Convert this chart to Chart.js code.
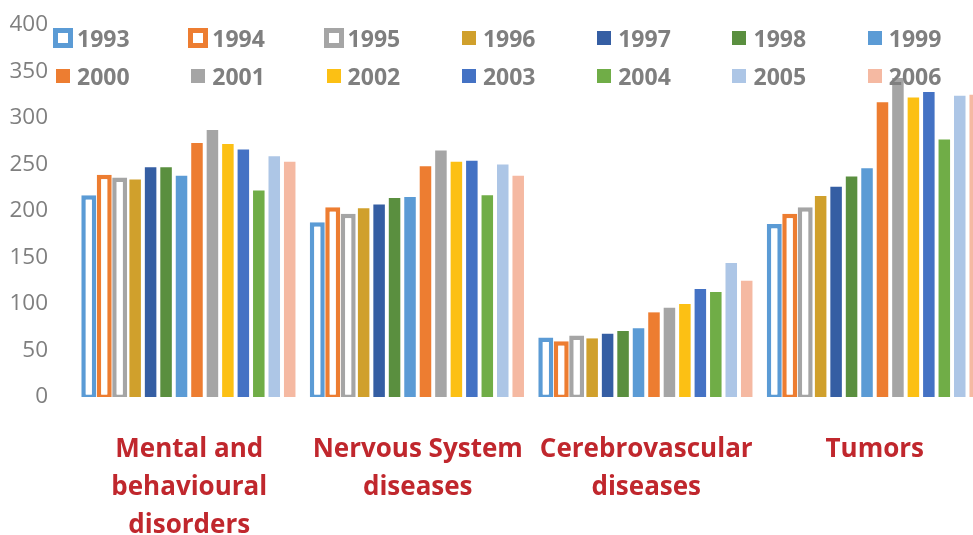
<!DOCTYPE html>
<html>
<head>
<meta charset="utf-8">
<title>Diseases by year</title>
<script src="https://cdn.jsdelivr.net/npm/chart.js@4.4.1/dist/chart.umd.min.js"></script>
<style>
  html, body { margin: 0; padding: 0; background: #fff; overflow: hidden; }
  #wrap { position: relative; width: 973px; height: 535px; overflow: hidden; }
  #chart { position: absolute; left: 0; top: 0; }
  #legend {
    position: absolute; left: 53px; top: 19px; z-index: 2;
    display: grid; grid-template-columns: repeat(7, 135.3px); grid-auto-rows: 38px;
  }
  .item { display: flex; align-items: center; font: bold 23px "Open Sans", sans-serif; color: #7f7f7f; line-height: 38px; }
  .box { width: 14px; height: 14px; margin: 0 7px 0 3px; box-sizing: border-box; }
  .box.hollow { width: 20px; height: 20px; margin: 0 4px 0 0; border: 5.5px solid; background: #fff; }
</style>
</head>
<body>
<div id="wrap">
  <canvas id="chart" width="1000" height="535"></canvas>
  <div id="legend"></div>
</div>
<script>
/* data */
const years = ["1993", "1994", "1995", "1996", "1997", "1998", "1999",
               "2000", "2001", "2002", "2003", "2004", "2005", "2006"];

const categories = [
  ["Mental and", "behavioural", "disorders"],
  ["Nervous System", "diseases"],
  ["Cerebrovascular", "diseases"],
  ["Tumors"]
];

// one value per year, in the order of years
const mentalValues   = [217, 239, 236, 234, 247, 247, 238, 273, 287, 272, 266, 222, 259, 253];
const nervousValues  = [188, 204, 197, 203, 207, 214, 215, 248, 265, 253, 254, 217, 250, 238];
const cerebroValues  = [ 64,  60,  66,  63,  68,  71,  74,  91,  96, 100, 116, 113, 144, 125];
const tumorValues    = [186, 197, 204, 216, 226, 237, 246, 317, 343, 322, 328, 277, 324, 325];

const yMin = 0;
const yMax = 400;
const yStep = 50;

/* styles */
const colors = ["#5b9bd5", "#ed7d31", "#a5a5a5", "#d0a02c", "#355ea3", "#5a8f3f", "#5b9bd5",
                "#ed7d31", "#a5a5a5", "#fcc014", "#4472c4", "#70ad47", "#adc6e6", "#f5b9a2"];
const hollowCount = 3; // first three years are drawn as outlines

Chart.defaults.font.family = "'Open Sans', sans-serif";

function buildDatasets() {
  return years.map((year, i) => {
    const hollow = i < hollowCount;
    return {
      label: year,
      data: [mentalValues[i], nervousValues[i], cerebroValues[i], tumorValues[i]],
      backgroundColor: hollow ? "#ffffff" : colors[i],
      borderColor: colors[i],
      borderWidth: hollow ? { top: 4.5, left: 4.5, right: 4.5, bottom: 2.5 } : 0,
      borderSkipped: false,
      barPercentage: hollow ? 0.97 : 0.745,
      categoryPercentage: 0.947
    };
  });
}

//legend as html on top of the plot
function buildLegend() {
  const legend = document.getElementById("legend");
  years.forEach((year, i) => {
    const item = document.createElement("div");
    item.className = "item";
    const box = document.createElement("span");
    if (i < hollowCount) {
      box.className = "box hollow";
      box.style.borderColor = colors[i];
    } else {
      box.className = "box";
      box.style.background = colors[i];
    }
    item.appendChild(box);
    item.appendChild(document.createTextNode(year));
    legend.appendChild(item);
  });
}

function drawChart() {
  const ctx = document.getElementById("chart").getContext("2d");
  new Chart(ctx, {
    type: "bar",
    data: { labels: categories, datasets: buildDatasets() },
    options: {
      responsive: false,
      animation: false,
      layout: { padding: { top: 25, right: 11, left: 0, bottom: 0 } },
      plugins: { legend: { display: false }, tooltip: { enabled: false } },
      scales: {
        x: {
          grid: { display: false, drawTicks: false },
          border: { display: false },
          ticks: {
            color: "#c0272d",
            font: { size: 26, weight: "bold", lineHeight: "38px" },
            padding: 34,
            maxRotation: 0,
            autoSkip: false
          },
          afterFit: s => {
            s.height = 138;
            s.paddingLeft = 0;
            s.paddingRight = 0;
          }
        },
        y: {
          min: yMin,
          max: yMax,
          grid: { display: false, drawTicks: false },
          border: { display: false },
          ticks: {
            stepSize: yStep,
            color: "#7f7f7f",
            font: { size: 22.5 },
            padding: 27
          },
          afterFit: s => {
            s.width = 75;
            s.paddingTop = 0;
            s.paddingBottom = 0;
          }
        }
      }
    }
  });
}

buildLegend();
drawChart();
</script>
</body>
</html>
